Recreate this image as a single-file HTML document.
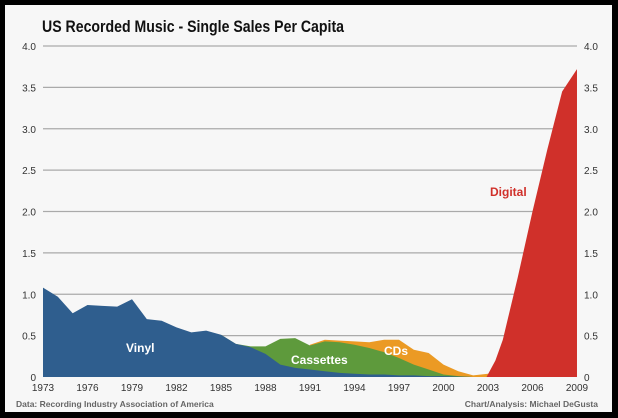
<!DOCTYPE html>
<html><head><meta charset="utf-8"><style>
html,body{margin:0;padding:0;background:#000;}
svg{display:block;font-family:"Liberation Sans",sans-serif;}
</style></head><body>
<svg id="s" width="618" height="418" xmlns="http://www.w3.org/2000/svg">
<rect x="0" y="0" width="618" height="418" fill="#000"/>
<rect x="5" y="5" width="607" height="407" fill="#f7f7f7"/>
<text x="42" y="32" font-size="17" font-weight="bold" fill="#111" textLength="302" lengthAdjust="spacingAndGlyphs">US Recorded Music - Single Sales Per Capita</text>
<g id="grid"></g>
<g id="areas"></g>
<g id="labels"></g>
<text x="126" y="352" font-size="12" font-weight="bold" fill="#fff">Vinyl</text>
<text x="291" y="364" font-size="12" font-weight="bold" fill="#fff">Cassettes</text>
<text x="384" y="355" font-size="12" font-weight="bold" fill="#fff">CDs</text>
<text x="490" y="196" font-size="12" font-weight="bold" fill="#d0302a">Digital</text>
<text x="16" y="407" font-size="8.5" font-weight="bold" fill="#666">Data: Recording Industry Association of America</text>
<text x="598" y="407" font-size="8.5" font-weight="bold" fill="#666" text-anchor="end">Chart/Analysis: Michael DeGusta</text>
</svg>
<script>
var NS="http://www.w3.org/2000/svg";
function X(yr){return 43+(yr-1973)*14.833;}
function Y(v){return 377-v*82.75;}
function el(t,a,p,txt){var e=document.createElementNS(NS,t);for(var k in a)e.setAttribute(k,a[k]);if(txt!==undefined)e.textContent=txt;document.getElementById(p).appendChild(e);}
for(var i=1;i<=8;i++){var v=i*0.5;el('line',{x1:43,x2:577,y1:Y(v),y2:Y(v),stroke:'#aaa','stroke-width':1.3},'grid');}
for(var i=0;i<=8;i++){var v=i*0.5,t=i==0?'0':v.toFixed(1);
el('text',{x:36,y:Y(v)+4,'font-size':10,'text-anchor':'end',fill:'#333'},'labels',t);
el('text',{x:584,y:Y(v)+4,'font-size':10,'text-anchor':'start',fill:'#333'},'labels',t);}
for(var yr=1973;yr<=2009;yr+=3){el('text',{x:X(yr),y:391,'font-size':10,'text-anchor':'middle',fill:'#333'},'labels',String(yr));}
var cd={1973:0,1990:0,1991:0.39,1992:0.45,1993:0.44,1994:0.43,1995:0.42,1996:0.45,1997:0.45,1998:0.33,1999:0.29,2000:0.15,2001:0.07,2002:0.02,2003:0.04,2004:0.03,2005:0.02,2006:0.01,2007:0.005,2008:0.003,2009:0};
var cs={1985:0.51,1986:0.40,1987:0.37,1988:0.37,1989:0.46,1990:0.47,1991:0.38,1992:0.43,1993:0.42,1994:0.39,1995:0.35,1996:0.30,1997:0.23,1998:0.15,1999:0.09,2000:0.03,2001:0.01,2002:0.0};
var vi=[1.08,0.97,0.77,0.87,0.86,0.85,0.94,0.70,0.68,0.60,0.54,0.56,0.51,0.40,0.36,0.28,0.15,0.11,0.09,0.07,0.05,0.04,0.03,0.03,0.02,0.02,0.01,0.01,0.005,0,0,0,0,0,0,0,0];
function area(obj,col){var ks=Object.keys(obj).map(Number).sort(function(a,b){return a-b});
var d='M'+X(ks[0])+','+Y(0);ks.forEach(function(k){d+=' L'+X(k)+','+Y(obj[k]);});d+=' L'+X(ks[ks.length-1])+','+Y(0)+'Z';el('path',{d:d,fill:col},'areas');}
area(cd,'#eb9a24');
area(cs,'#5e9a3c');
var v={};vi.forEach(function(a,i){v[1973+i]=a;});area(v,'#2f5e8e');
area({2002.9:0,2003.5:0.2,2004:0.45,2005:1.2,2006:2.0,2007:2.75,2008:3.45,2009:3.72},'#d0302a');
</script>
</body></html>
